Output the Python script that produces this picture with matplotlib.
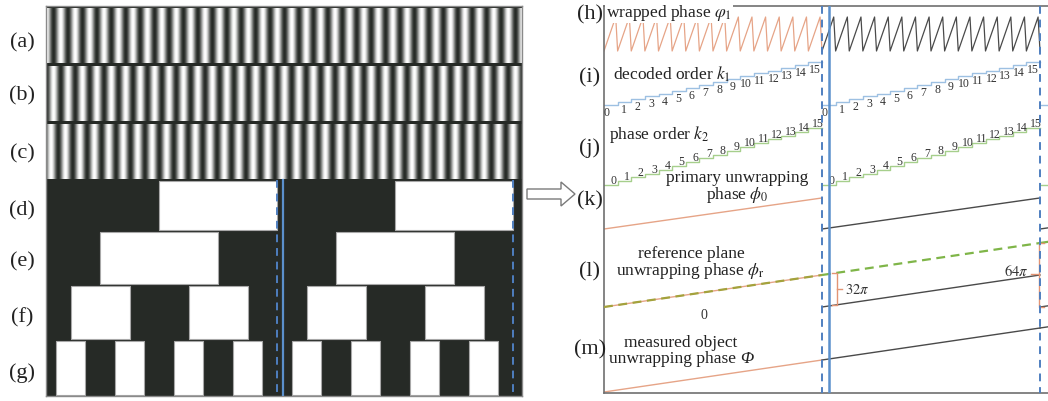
import numpy as np
import matplotlib
matplotlib.use("Agg")
import matplotlib.pyplot as plt
from matplotlib.colors import LinearSegmentedColormap
from matplotlib.patches import Polygon

plt.rcParams['font.family'] = ['Liberation Serif', 'DejaVu Serif']
plt.rcParams['mathtext.fontset'] = 'stix'

# ---------------- data ----------------
ORDERS = 16                      # fringe orders in one coding period
# 4-bit reflected Gray code, one value per fringe order
gray_d = [0, 0, 0, 0, 0, 0, 0, 0, 1, 1, 1, 1, 1, 1, 1, 1]
gray_e = [0, 0, 0, 0, 1, 1, 1, 1, 1, 1, 1, 1, 0, 0, 0, 0]
gray_f = [0, 0, 1, 1, 1, 1, 0, 0, 0, 0, 1, 1, 1, 1, 0, 0]
gray_g = [0, 1, 1, 0, 0, 1, 1, 0, 0, 1, 1, 0, 0, 1, 1, 0]
# phase-shifted sinusoidal fringes: bright-fringe position (orders)
fringe_pos = [1.34, 0.85, 1.66]
fringe_pitch = 0.979
# decoded orders
k1_orders = list(range(16))
k2_orders = list(range(16))
# unwrapped phases, in units of pi
phi0_span = 32        # primary unwrapping phase over one period
phi_r_span = 64       # reference plane phase over two periods
Phi_span = 64         # measured object phase over two periods
jump_values = [0, 32, 64]

# ---------------- layout helpers ----------------
W, H = 1048, 402
fig = plt.figure(figsize=(W / 100, H / 100), dpi=100)


def px_axes(x0, y0, x1, y1):
    return fig.add_axes([x0 / W, 1 - y1 / H, (x1 - x0) / W, (y1 - y0) / H])


DARK = '#262a26'
ORANGE = '#e6a487'
BLUE_D = '#4f7fc0'
BLUE_S = '#5b90cc'

# ================= left panel: projected patterns =================
ax_l = px_axes(46, 7, 522, 397)
L_PX0, L_PPO = 41.0, 14.75
lx0, lx1 = (46 - L_PX0) / L_PPO, (522 - L_PX0) / L_PPO
ax_l.set_facecolor(DARK)

cmap = LinearSegmentedColormap.from_list('fr', [DARK, '#ffffff'])
fringe_rows = [(7, 65), (65, 123), (123, 181)]
xs = np.linspace(lx0, lx1, 3000)
for pos, (top, bot) in zip(fringe_pos, fringe_rows):
    inten = 0.5 + 0.5 * np.cos(2 * np.pi * (xs - pos) / fringe_pitch)
    ax_l.imshow(inten[None, :], extent=(lx0, lx1, bot - 1.5, top + 1.5),
                cmap=cmap, vmin=0, vmax=1, aspect='auto',
                interpolation='bilinear', zorder=1)


def runs(bits, periods):
    seq = list(bits) * periods + [0]
    out, start = [], None
    for i, b in enumerate(seq):
        if b and start is None:
            start = i
        if not b and start is not None:
            out.append((start, i - start))
            start = None
    return out


gray_rows = [(gray_d, (181, 232)), (gray_e, (232, 286)),
             (gray_f, (286, 341)), (gray_g, (341, 397))]
for bits, (top, bot) in gray_rows:
    ax_l.broken_barh(runs(bits, 3), (top + 0.6, bot - top - 1.2),
                     facecolors='white', edgecolors='#a8a8a8', lw=0.8, zorder=2)

for xo in (ORDERS, 2 * ORDERS):
    ax_l.plot([xo, xo], [181, 397], color=BLUE_D, lw=1.4, ls=(0, (4, 3)), zorder=3)
ax_l.plot([ORDERS + 0.42] * 2, [181, 397], color=BLUE_S, lw=1.6, zorder=3)

ax_l.set_xlim(lx0, lx1)
ax_l.set_ylim(397, 7)
ax_l.set_xticks([])
ax_l.set_yticks([])
for s in ax_l.spines.values():
    s.set_color('#8a8a8a')
    s.set_linewidth(1.0)

# ================= right panel: phase unwrapping =================
R_PX0, R_PPO = 604.0, 218.0 / ORDERS
ax_r = px_axes(604, 7, 1062, 394)
rx1 = (1062 - R_PX0) / R_PPO
ax_r.set_xlim(0, rx1)
ax_r.set_ylim(394, 7)
ax_r.set_xticks([])
ax_r.set_yticks([])
ax_r.spines['right'].set_visible(False)
for s in ('left', 'top', 'bottom'):
    ax_r.spines[s].set_color('#707070')
    ax_r.spines[s].set_linewidth(1.2)

period_cols = [ORANGE, '#4a4a4a', '#4a4a4a']

# (h) wrapped phase: one 0..2pi ramp per fringe order
h_bot, h_top = 52, 18
for p in range(2):
    xx, yy = [], []
    for k in k1_orders:
        o = p * ORDERS + k
        xx += [o, o + 0.86]
        yy += [h_bot, h_top]
    xx.append((p + 1) * ORDERS)
    yy.append(h_bot)
    ax_r.plot(xx, yy, color=period_cols[p], lw=0.9, zorder=2)

# (i) decoded order k1
i_base, i_step = 106, 2.87
stair_blue = '#9dc0e2'
for p in range(3):
    xe = [p * ORDERS + k for k in k1_orders] + [(p + 1) * ORDERS]
    ye = [i_base - k * i_step for k in k1_orders] + [i_base - k1_orders[-1] * i_step]
    ax_r.step(xe, ye, where='post', color=stair_blue, lw=1.0, zorder=2)
    if p < 2:
        for k in k1_orders:
            xo = p * ORDERS + k + (0.45 if k else 0.15)
            ax_r.text(xo, i_base - k * i_step + 7, str(k), fontsize=8.5,
                      ha='center', va='center', color='#333333', zorder=4)

# (j) phase order k2
j_base, j_step = 186, 3.8
stair_green = '#a6cf8c'
for p in range(3):
    xe = [p * ORDERS + k for k in k2_orders] + [(p + 1) * ORDERS]
    ye = [j_base - k * j_step for k in k2_orders] + [j_base - k2_orders[-1] * j_step]
    ax_r.step(xe, ye, where='post', color=stair_green, lw=1.0, zorder=2)
    if p < 2:
        for k in k2_orders:
            xo = p * ORDERS + k + 0.7
            ax_r.text(xo, j_base - k * j_step - 5, str(k), fontsize=8.5,
                      ha='center', va='center', color='#333333', zorder=4)

# (k) primary unwrapping phase, restarting each period
k_base, k_scale = 230, 0.97
for p in range(3):
    ax_r.plot([p * ORDERS, (p + 1) * ORDERS],
              [k_base, k_base - phi0_span * k_scale],
              color=period_cols[p], lw=1.0, zorder=2)

# (l) reference plane phase and per-period object phase
l_base, l_scale = 308, 1.0
for p in range(3):
    ax_r.plot([p * ORDERS, (p + 1) * ORDERS],
              [l_base, l_base - phi0_span * l_scale],
              color=period_cols[p], lw=1.0, zorder=2)
ref_cols = ['#a3a23c', '#7fb548', '#7fb548']
for p in range(3):
    x_a, x_b = p * ORDERS, (p + 1) * ORDERS
    f_a, f_b = phi_r_span * x_a / (2 * ORDERS), phi_r_span * x_b / (2 * ORDERS)
    ax_r.plot([x_a, x_b], [l_base - f_a * l_scale, l_base - f_b * l_scale],
              color=ref_cols[p], lw=1.6, ls=(0, (4, 2.5)), zorder=3)

# jump brackets between reference plane and period phase
ax_r.text(7.3, l_base + 1, str(jump_values[0]), fontsize=10, ha='center', va='top',
          color='#333333')
br_col = '#e39474'
xb = 17.1
y_seg = l_base - phi0_span * (xb - ORDERS) / ORDERS * l_scale
y_ref = y_seg - jump_values[1] * l_scale
ax_r.plot([xb - 0.35, xb, xb, xb - 0.35], [y_ref, y_ref, y_seg, y_seg],
          color=br_col, lw=1.0, zorder=4)
ax_r.plot([xb, xb + 0.4], [(y_ref + y_seg) / 2] * 2, color=br_col, lw=1.0, zorder=4)
ax_r.text(xb + 0.6, (y_ref + y_seg) / 2, r'$%d\pi$' % jump_values[1], fontsize=10.5,
          ha='left', va='center', color='#333333')

xb = 31.93
y_seg = l_base
y_ref = y_seg - jump_values[2] * l_scale
ax_r.plot([xb + 0.4, xb, xb, xb + 0.4], [y_ref, y_ref, y_seg, y_seg],
          color=br_col, lw=1.0, zorder=4)
ax_r.plot([xb, xb - 0.6], [(y_ref + y_seg) / 2 - 1] * 2, color=br_col, lw=1.0, zorder=4)
ax_r.text(xb - 0.8, (y_ref + y_seg) / 2 - 4, r'$%d\pi$' % jump_values[2], fontsize=10.5,
          ha='right', va='center', color='#333333')

# (m) measured object phase, continuous over both periods
m_base, m_scale = 393, 1.0
for p in range(3):
    x_a, x_b = p * ORDERS, (p + 1) * ORDERS
    f_a, f_b = Phi_span * x_a / (2 * ORDERS), Phi_span * x_b / (2 * ORDERS)
    ax_r.plot([x_a, x_b], [m_base - f_a * m_scale, m_base - f_b * m_scale],
              color=period_cols[p], lw=1.0, zorder=2)

# period boundaries
for xo in (ORDERS, 2 * ORDERS):
    ax_r.plot([xo, xo], [7, 394], color=BLUE_D, lw=1.4, ls=(0, (4, 3)), zorder=5)
ax_r.plot([ORDERS + 0.5] * 2, [7, 394], color=BLUE_S, lw=1.8, zorder=5)


# row captions
def rtext(px, py, s, ha='center', **kw):
    return ax_r.text((px - R_PX0) / R_PPO, py, s, fontsize=12.5, ha=ha, va='center',
                     color='#222222', zorder=6, **kw)


rtext(669, 13, r'wrapped phase $\varphi_1$',
      bbox=dict(facecolor='white', edgecolor='none', pad=0.5))
rtext(672, 74, r'decoded order $k_1$')
rtext(659, 135, r'phase order $k_2$')
rtext(737, 178, 'primary unwrapping')
rtext(737, 195, r'phase $\phi_0$')
rtext(691, 254, 'reference plane')
rtext(690, 271, r'unwrapping phase $\phi_{\mathrm{r}}$')
rtext(681, 343, 'measured object')
t_m = rtext(609, 359, 'unwrapping phase ', ha='left')
ax_r.annotate('Φ', xy=(1, 0.5), xycoords=t_m, ha='left', va='center',
              fontsize=12.5, fontstyle='italic', color='#222222', zorder=6)

# ================= overlay: panel labels and arrow =================
ax_o = fig.add_axes([0, 0, 1, 1])
ax_o.set_xlim(0, W)
ax_o.set_ylim(H, 0)
ax_o.axis('off')
ax_o.patch.set_alpha(0)

left_labels = ['(a)', '(b)', '(c)', '(d)', '(e)', '(f)', '(g)']
left_y = [43, 96, 154, 211, 262, 318, 373]
for s, y in zip(left_labels, left_y):
    ax_o.text(22, y, s, fontsize=16, ha='center', va='center', color='#222222')

right_labels = ['(h)', '(i)', '(j)', '(k)', '(l)', '(m)']
right_y = [15, 78, 148, 201, 272, 350]
for s, y in zip(right_labels, right_y):
    ax_o.text(590, y, s, fontsize=16, ha='center', va='center', color='#222222')

arrow = Polygon([(527, 190), (561, 190), (561, 183), (575, 195),
                 (561, 207), (561, 200), (527, 200)], closed=True,
                facecolor='white', edgecolor='#7a7a7a', lw=1.0)
ax_o.add_patch(arrow)

fig.savefig('out.png', dpi=100)
